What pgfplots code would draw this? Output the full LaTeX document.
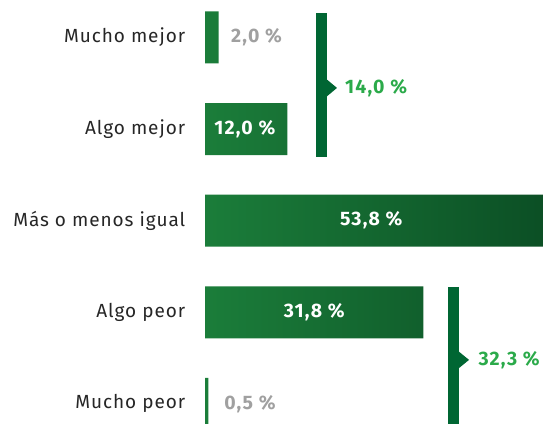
\documentclass[border=0pt]{standalone}
\usepackage{pgfplots}
\pgfplotsset{compat=1.18}
\usepackage{fontspec}
\setmainfont{Fira Sans}
\newfontfamily\catfont[LetterSpace=5]{Fira Sans}
\newfontfamily\valfont[LetterSpace=6]{Fira Sans}
\definecolor{barA}{RGB}{27,125,58}
\definecolor{barB}{RGB}{10,75,35}
\definecolor{brk}{RGB}{0,102,51}
\definecolor{lblgreen}{RGB}{43,170,74}
\definecolor{lblgray}{RGB}{160,160,160}
\newcommand{\lblfont}{\valfont\bfseries\fontsize{19.5}{22}\selectfont}

\begin{document}
\begin{tikzpicture}
\begin{axis}[
  at={(205pt,0pt)}, anchor=south west,
  scale only axis, width=338pt, height=423pt,
  xmin=0, xmax=49.2,
  ymin=-0.409, ymax=4.209, y dir=reverse,
  xbar, bar width=52pt,
  axis line style={draw=none}, tick style={draw=none},
  xtick=\empty,
  ytick={0,1,2,3,4},
  yticklabels={Mucho mejor,Algo mejor,Más o menos igual,Algo peor,Mucho peor},
  yticklabel style={font=\catfont\fontsize{19}{22}\selectfont, text=black!85, anchor=east, xshift=-12pt},
  clip=true,
]
\addplot[draw=none, left color=barA, middle color=barA, right color=barB] coordinates {
 (2.0,0) (12.0,1) (53.8,2) (31.8,3) (0.5,4)
};
% value labels
\node[font=\lblfont, text=lblgray, anchor=west] at (axis cs:3.3,0) {2,0 \%};
\node[font=\lblfont, text=white] at (axis cs:5.8,1) {12,0 \%};
\node[font=\lblfont, text=white] at (axis cs:24.2,2) {53,8 \%};
\node[font=\lblfont, text=white] at (axis cs:15.9,3) {31,8 \%};
\node[font=\lblfont, text=lblgray, anchor=west] at (axis cs:2.3,4) {0,5 \%};
% brackets
\addplot[brk, line width=11pt, no markers, xbar=0pt, sharp plot] coordinates {(16.96,-0.267) (16.96,1.305)};
\addplot[fill=brk, draw=none, xbar=0pt, sharp plot] coordinates {(17.6,0.45) (19.21,0.551) (17.6,0.652)} --cycle;
\node[font=\lblfont, text=lblgreen, anchor=west] at (axis cs:19.9,0.551) {14,0 \%};
\addplot[brk, line width=11pt, no markers, xbar=0pt, sharp plot] coordinates {(36.17,2.724) (36.17,4.5)};
\addplot[fill=brk, draw=none, xbar=0pt, sharp plot] coordinates {(36.8,3.42) (38.43,3.52) (36.8,3.62)} --cycle;
\node[font=\lblfont, text=lblgreen, anchor=west] at (axis cs:39.3,3.52) {32,3 \%};
\end{axis}
\pgfresetboundingbox
\path (0,0) rectangle (543pt,423pt);
\end{tikzpicture}
\end{document}
